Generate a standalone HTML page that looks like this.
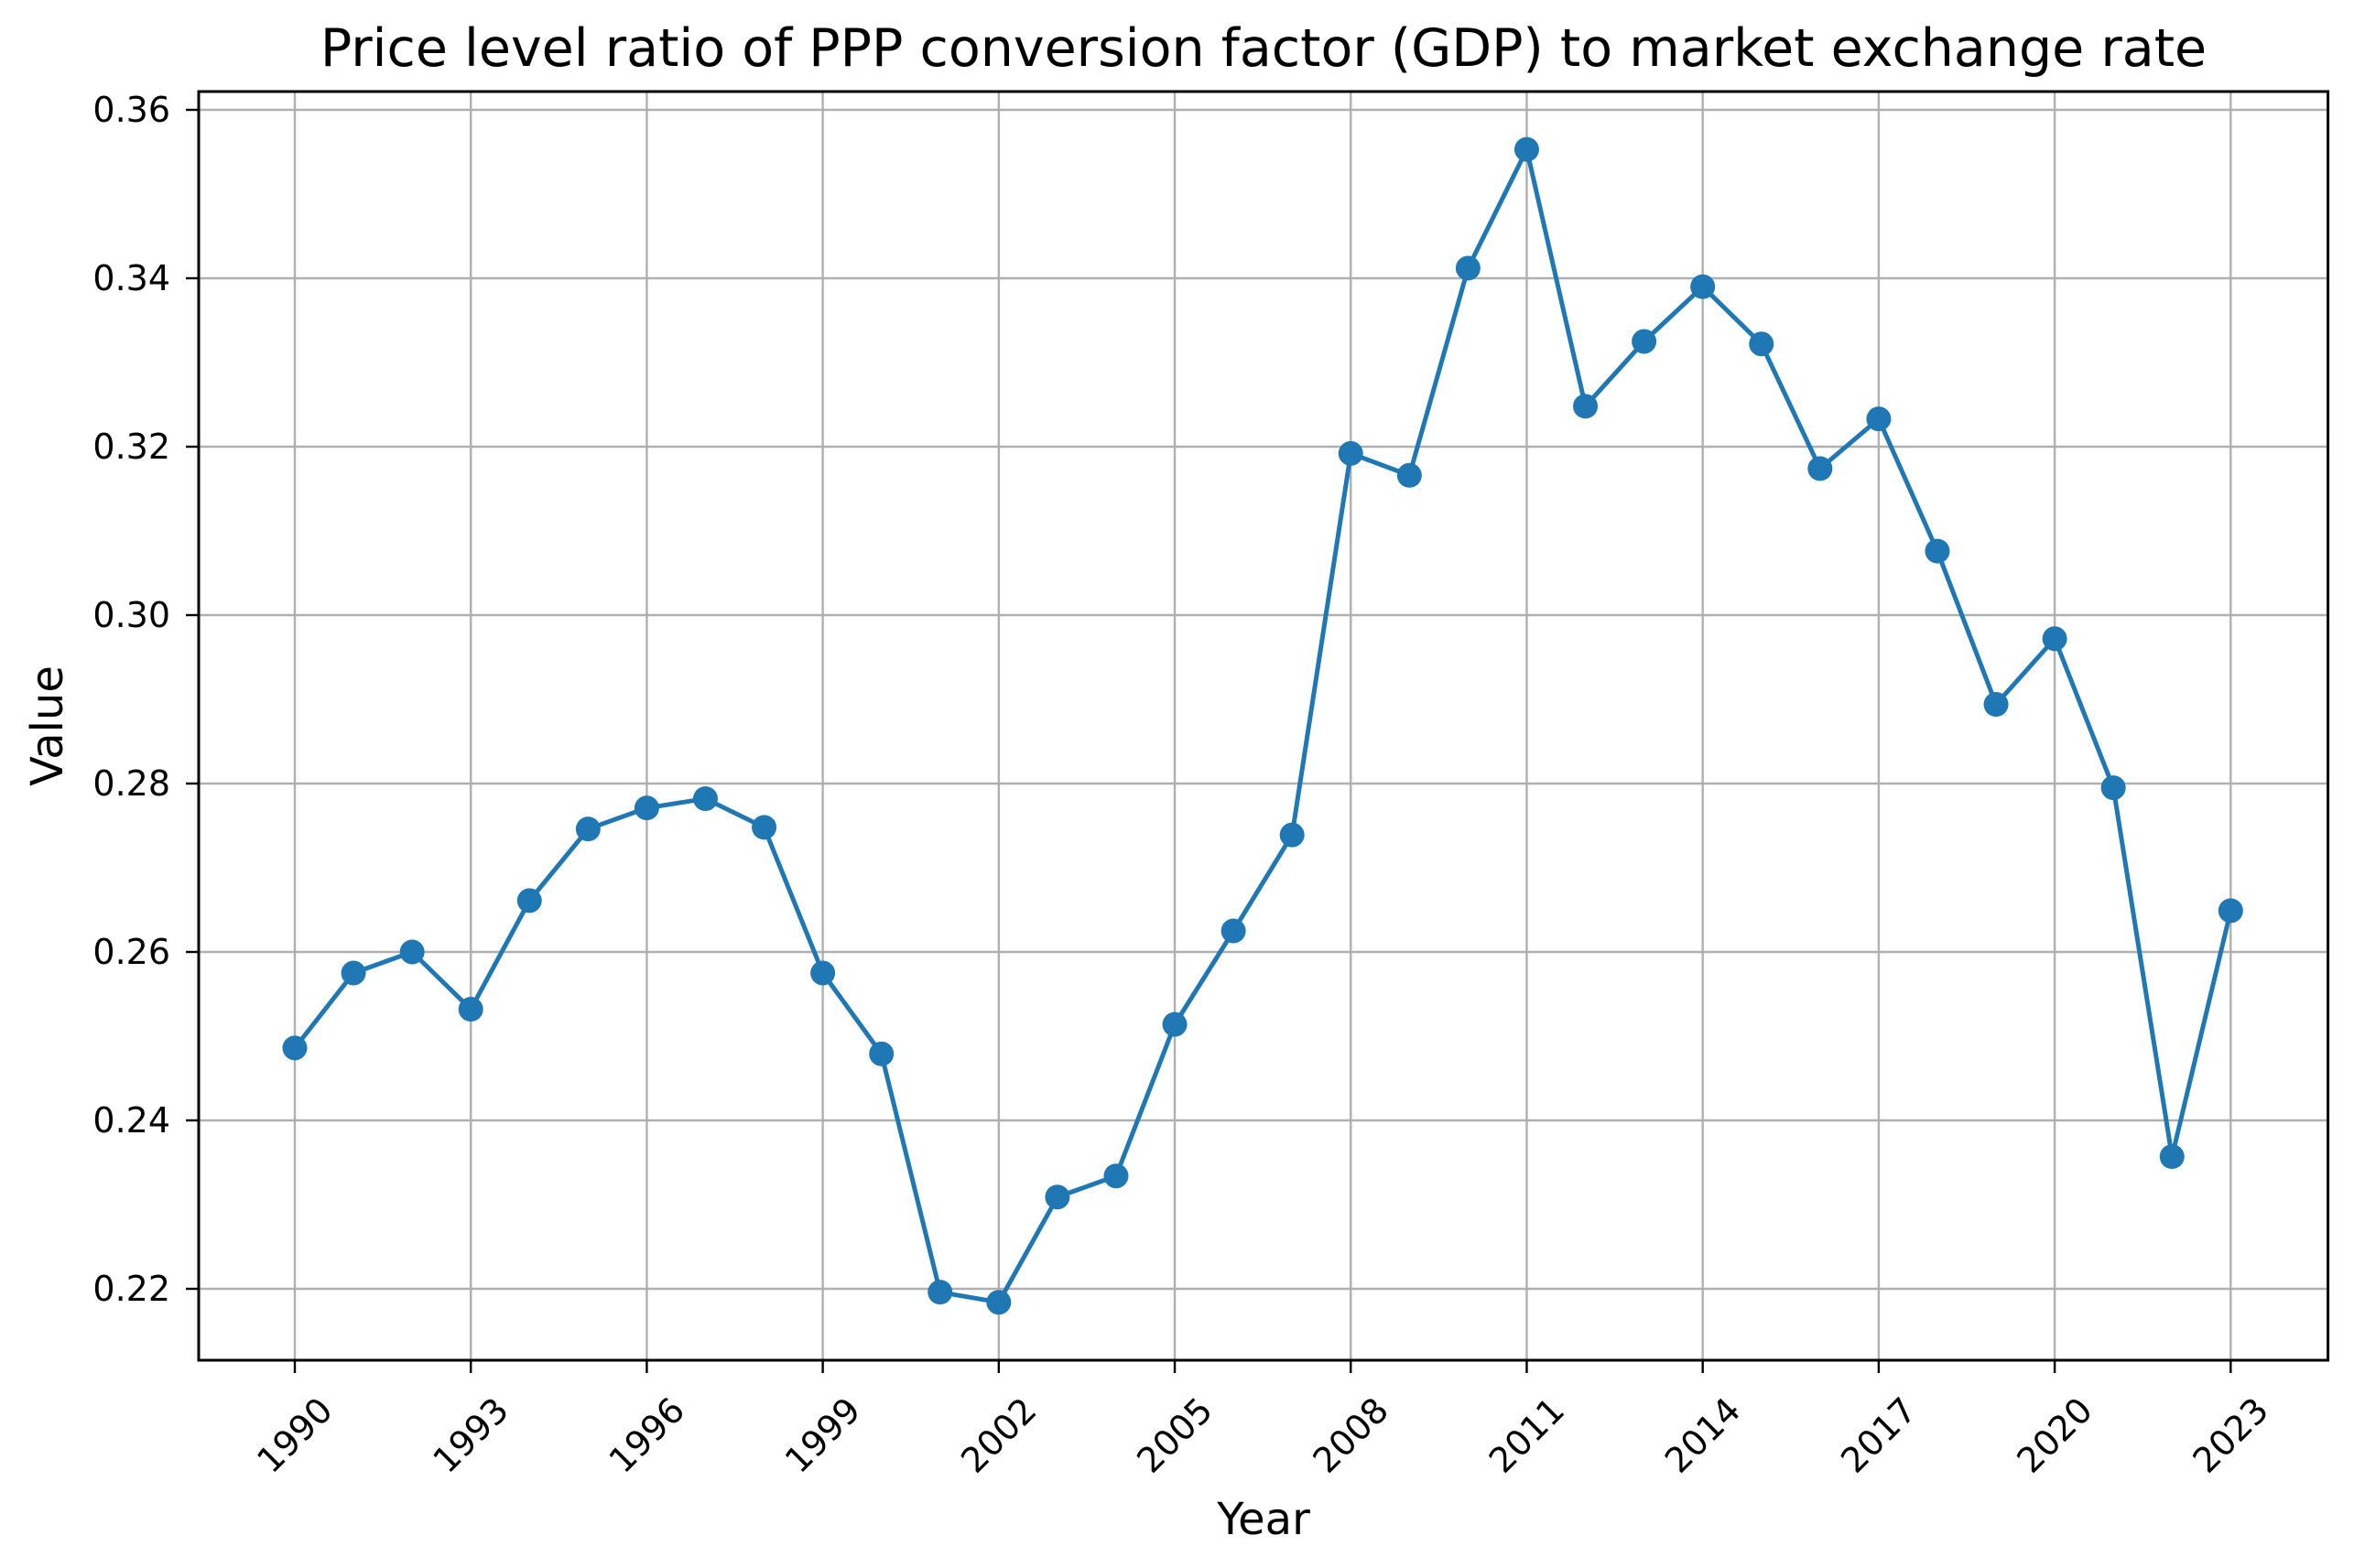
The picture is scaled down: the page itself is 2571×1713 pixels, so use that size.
<!DOCTYPE html>
<html><head><meta charset="utf-8"><style>html,body{margin:0;padding:0;background:#fff}svg{display:block}text{font-family:"DejaVu Sans","Liberation Sans",sans-serif;fill:#000}</style></head>
<body>
<svg id="chart" width="2571" height="1713" viewBox="0 0 2571 1713" xmlns="http://www.w3.org/2000/svg">
<rect width="2571" height="1713" fill="#fff"/>
<text x="1380" y="72" font-size="57" text-anchor="middle">Price level ratio of PPP conversion factor (GDP) to market exchange rate</text>
<g id="grid"></g>
<g id="axes"></g>
<g id="series"></g>
<rect x="217" y="100" width="2325.6" height="1386" fill="none" stroke="#000" stroke-width="3"/>
<text x="1380" y="1676" font-size="48" text-anchor="middle">Year</text>
<text x="0" y="0" font-size="48" text-anchor="middle" transform="translate(68,793) rotate(-90)">Value</text>
</svg>
<script>
const years = [1990,1991,1992,1993,1994,1995,1996,1997,1998,1999,2000,2001,2002,2003,2004,2005,2006,2007,2008,2009,2010,2011,2012,2013,2014,2015,2016,2017,2018,2019,2020,2021,2022,2023];
const values = [0.2486,0.2575,0.2600,0.2532,0.2661,0.2746,0.2771,0.2782,0.2748,0.2575,0.2479,0.2196,0.2184,0.2309,0.2334,0.2514,0.2625,0.2739,0.3192,0.3166,0.3412,0.3553,0.3248,0.3325,0.3390,0.3322,0.3174,0.3233,0.3076,0.2894,0.2972,0.2795,0.2357,0.2649];
const xTicks = [1990,1993,1996,1999,2002,2005,2008,2011,2014,2017,2020,2023];
const yTicks = [0.22,0.24,0.26,0.28,0.30,0.32,0.34,0.36];
const yTickLabels = ["0.22","0.24","0.26","0.28","0.30","0.32","0.34","0.36"];

const NS = "http://www.w3.org/2000/svg";
function xs(v){ return 322 + (v - 1990) * 64.07; }
function ys(v){ return 1408 - (v - 0.22) / 0.02 * 184; }
function mk(tag, attrs, parent){ const e=document.createElementNS(NS,tag); for(const k in attrs) e.setAttribute(k,attrs[k]); parent.appendChild(e); return e; }
const grid=document.getElementById('grid'), axes=document.getElementById('axes'), series=document.getElementById('series');
xTicks.forEach(t=>{
  const x=xs(t);
  const g=mk('line',{x1:x,x2:x,y1:100,y2:1486,stroke:'#b0b0b0','stroke-width':2.4},grid);
  
  
  const tk=mk('line',{x1:x,x2:x,y1:1486,y2:1500,stroke:'#000','stroke-width':2.4},axes);
  
  
  const lb=mk('text',{x:0,y:0,'font-size':38,'text-anchor':'middle','dominant-baseline':'central',transform:'translate('+x+',1568) rotate(-45)'},axes);
  lb.textContent=String(t);
  
  
});
yTicks.forEach((t,i)=>{
  const y=ys(t);
  const g=mk('line',{x1:217,x2:2542.6,y1:y,y2:y,stroke:'#b0b0b0','stroke-width':2.4},grid);
  
  
  const tk=mk('line',{x1:203,x2:217,y1:y,y2:y,stroke:'#000','stroke-width':2.4},axes);
  
  
  const lb=mk('text',{x:186,y:y,'font-size':38,'text-anchor':'end','dominant-baseline':'central'},axes);
  lb.textContent=yTickLabels[i];
  
  
});
const pts=years.map((yr,i)=>xs(yr)+','+ys(values[i])).join(' ');
const pl=mk('polyline',{points:pts,fill:'none',stroke:'#1f77b4','stroke-width':5,'stroke-linejoin':'round'},series);


years.forEach((yr,i)=>{
  const c=mk('circle',{cx:xs(yr),cy:ys(values[i]),r:13.5,fill:'#1f77b4'},series);
  
  
});
</script>
</body></html>
